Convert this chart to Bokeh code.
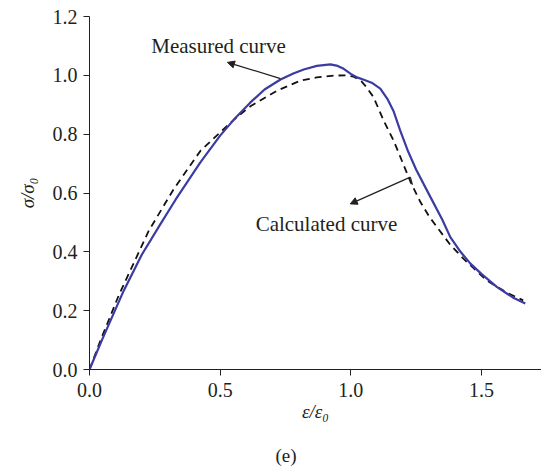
from bokeh.plotting import figure
from bokeh.models import Range1d, FixedTicker, Label, Arrow, NormalHead, Title, CustomJSTickFormatter
from bokeh.embed import file_html
from bokeh.resources import INLINE

# Measured curve (sigma/sigma0 vs epsilon/epsilon0)
measured_x = [0.0, 0.05, 0.131, 0.2, 0.272, 0.33, 0.374, 0.425, 0.5, 0.56, 0.616, 0.67,
              0.731, 0.78, 0.82, 0.87, 0.922, 0.95, 0.973, 1.0, 1.024, 1.05, 1.08, 1.113,
              1.14, 1.163, 1.19, 1.22, 1.25, 1.305, 1.35, 1.381, 1.42, 1.458, 1.5, 1.56,
              1.62, 1.668]
measured_y = [0.0, 0.105, 0.268, 0.39, 0.495, 0.578, 0.637, 0.705, 0.795, 0.857, 0.908, 0.952,
              0.986, 1.006, 1.02, 1.032, 1.037, 1.032, 1.022, 1.005, 0.993, 0.985, 0.975, 0.955,
              0.92, 0.88, 0.81, 0.74, 0.68, 0.586, 0.51, 0.45, 0.40, 0.36, 0.325, 0.28,
              0.245, 0.224]

# Calculated curve
calc_x = [0.0, 0.042, 0.112, 0.227, 0.323, 0.425, 0.551, 0.616, 0.718, 0.807, 0.87, 0.934,
          0.98, 1.01, 1.04, 1.06, 1.087, 1.126, 1.164, 1.19, 1.23, 1.266, 1.3, 1.33, 1.38,
          1.432, 1.521, 1.6, 1.66]
calc_y = [0.0, 0.099, 0.252, 0.472, 0.614, 0.744, 0.848, 0.895, 0.948, 0.982, 0.993, 0.999,
          1.0, 0.996, 0.98, 0.96, 0.926, 0.846, 0.778, 0.722, 0.635, 0.57, 0.52, 0.484, 0.425,
          0.376, 0.302, 0.26, 0.235]

x_ticks = [0.0, 0.5, 1.0, 1.5]
y_ticks = [0.0, 0.2, 0.4, 0.6, 0.8, 1.0, 1.2]

FONT = "Liberation Serif"
TXT = "#231f20"

p = figure(frame_width=452, frame_height=353, output_backend="svg", toolbar_location=None,
           x_range=Range1d(0, 1.73), y_range=Range1d(0, 1.2),
           min_border_left=89, min_border_top=16, min_border_right=0, min_border_bottom=0)
p.outline_line_color = None
p.xgrid.visible = False
p.ygrid.visible = False
p.background_fill_color = "white"

fmt = CustomJSTickFormatter(code="return tick.toFixed(1);")
for ax, ticks in ((p.xaxis[0], x_ticks), (p.yaxis[0], y_ticks)):
    ax.ticker = FixedTicker(ticks=ticks)
    ax.formatter = fmt
    ax.minor_tick_line_color = None
    ax.major_tick_out = 6
    ax.major_tick_in = 0
    ax.axis_line_color = "#231f20"
    ax.major_tick_line_color = "#231f20"
    ax.major_label_text_font = FONT
    ax.major_label_text_font_size = "20px"
    ax.major_label_text_color = TXT
    ax.axis_label_text_font = FONT
    ax.axis_label_text_font_size = "19px"
    ax.axis_label_text_color = TXT
    ax.axis_label_text_font_style = "italic"

p.xaxis.axis_label = "ε/ε₀"
p.yaxis.axis_label = "σ/σ₀"
p.xaxis.major_label_standoff = 7
p.xaxis.axis_label_standoff = 1
p.yaxis.major_label_standoff = 6
p.yaxis.axis_label_standoff = 12

p.line(calc_x, calc_y, line_color="#111111", line_width=1.8, line_dash="7 5")
p.line(measured_x, measured_y, line_color="#3b3ba3", line_width=2.2)

p.add_layout(Label(x=0.494, y=1.101, text="Measured curve", text_align="center",
                   text_baseline="middle", text_font=FONT, text_font_size="21px",
                   text_color=TXT))
p.add_layout(Label(x=0.907, y=0.496, text="Calculated curve", text_align="center",
                   text_baseline="middle", text_font=FONT, text_font_size="21px",
                   text_color=TXT))

p.add_layout(Arrow(x_start=0.731, y_start=0.989, x_end=0.528, y_end=1.044,
                   line_color="#231f20", line_width=1.2,
                   end=NormalHead(size=7, fill_color="#231f20", line_color="#231f20")))
p.add_layout(Arrow(x_start=1.228, y_start=0.654, x_end=0.998, y_end=0.563,
                   line_color="#231f20", line_width=1.2,
                   end=NormalHead(size=7, fill_color="#231f20", line_color="#231f20")))
p.segment(x0=[1.228], y0=[0.654], x1=[1.236], y1=[0.628], line_color="#231f20", line_width=1.2)

p.add_layout(Title(text="(e)", align="left", offset=186, text_font=FONT,
                   text_font_size="19px", text_color=TXT, text_font_style="normal",
                   standoff=37), "below")

open("out.html", "w").write(file_html(p, INLINE))
